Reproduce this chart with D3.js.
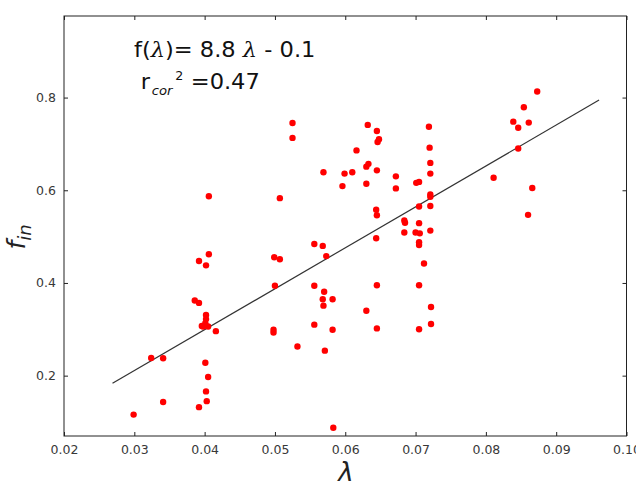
<!doctype HTML>
<html>
<head>
<script src="https://d3js.org/d3.v7.min.js"></script>
<style>
  body { margin: 0; background: #fff; }
  text { font-family: "DejaVu Sans", sans-serif; }
</style>
</head>
<body>
<script>

// data
var lambdaVals = [
  0.0299, 0.0324, 0.0341, 0.0341,
  0.0392, 0.0406, 0.0402, 0.0386, 0.0392, 0.0402, 0.0402, 0.0401, 0.0398, 0.0405,
  0.0416, 0.0401, 0.0405, 0.0402, 0.0403, 0.0392, 0.0406, 0.0396,
  0.0499, 0.0507, 0.0500, 0.0498, 0.0498, 0.0507, 0.0532, 0.0525, 0.0525,
  0.0556, 0.0568, 0.0573, 0.0556, 0.0570, 0.0568, 0.0582, 0.0569, 0.0556, 0.0582,
  0.0571, 0.0583, 0.0569,
  0.0599, 0.0596, 0.0610, 0.0616, 0.0630, 0.0633, 0.0632, 0.0645, 0.0646, 0.0648,
  0.0645, 0.0630, 0.0644, 0.0645, 0.0644, 0.0645, 0.0630, 0.0645,
  0.0672, 0.0672, 0.0701, 0.0705, 0.0705, 0.0684, 0.0685, 0.0705, 0.0684, 0.0700,
  0.0706, 0.0705, 0.0705, 0.0712, 0.0705, 0.0705, 0.0719, 0.0720, 0.0721, 0.0721,
  0.0721, 0.0721, 0.0721, 0.0721, 0.0722, 0.0722,
  0.0811, 0.0839, 0.0846, 0.0854, 0.0861, 0.0873, 0.0846, 0.0866, 0.0860
];
var finVals = [
  0.116, 0.238, 0.2375, 0.143,
  0.4475, 0.462, 0.438, 0.362, 0.357, 0.331, 0.322, 0.313, 0.306, 0.306,
  0.296, 0.228, 0.197, 0.166, 0.145, 0.132, 0.587, 0.307,
  0.4555, 0.451, 0.394, 0.299, 0.293, 0.583, 0.263, 0.745, 0.713,
  0.484, 0.480, 0.458, 0.394, 0.381, 0.365, 0.365, 0.351, 0.310, 0.299,
  0.254, 0.0875, 0.639,
  0.636, 0.609, 0.639, 0.686, 0.651, 0.657, 0.741, 0.728, 0.704, 0.710,
  0.643, 0.614, 0.558, 0.546, 0.4965, 0.395, 0.340, 0.302,
  0.630, 0.604, 0.616, 0.618, 0.565, 0.535, 0.530, 0.529, 0.509, 0.509,
  0.507, 0.488, 0.482, 0.442, 0.395, 0.300, 0.737, 0.692, 0.659, 0.636,
  0.591, 0.586, 0.566, 0.513, 0.348, 0.3115,
  0.627, 0.748, 0.735, 0.779, 0.746, 0.813, 0.690, 0.605, 0.547
];

// fitted line as drawn
var fitSlope = 8.83, fitIntercept = -0.054;
var fitRange = [0.0269, 0.0961];

var xTicks = [0.02, 0.03, 0.04, 0.05, 0.06, 0.07, 0.08, 0.09, 0.10];
var yTicks = [0.2, 0.4, 0.6, 0.8];

var margin = {top: 16, right: 9.5, bottom: 55, left: 64},
    width = 636 - margin.left - margin.right,
    height = 491 - margin.top - margin.bottom;

var svg = d3.select("body")
    .append("svg")
    .attr("width", 636)
    .attr("height", 491)
    .append("g")
    .attr("transform", "translate(" + margin.left + "," + margin.top + ")");

var x = d3.scaleLinear().domain([0.02, 0.10]).range([0, width]);
var y = d3.scaleLinear().domain([0.0698, 0.976]).range([height, 0]);

// axes, ticks pointing inward like matplotlib classic
function styleAxis(g) {
    g.select(".domain").remove();
    g.selectAll(".tick line").attr("stroke", "#222");
    g.selectAll(".tick text").attr("fill", "#383838").attr("font-size", "12.5px")
        .attr("font-family", "DejaVu Sans");
}
svg.append("g")
    .attr("transform", "translate(0," + height + ")")
    .call(d3.axisBottom(x).tickValues(xTicks).tickSizeInner(-4).tickPadding(9)
        .tickFormat(d3.format(".2f")))
    .call(styleAxis);
svg.append("g")
    .call(d3.axisTop(x).tickValues(xTicks).tickSizeInner(-4).tickFormat(""))
    .call(styleAxis);
svg.append("g")
    .call(d3.axisLeft(y).tickValues(yTicks).tickSizeInner(-4).tickPadding(8)
        .tickFormat(d3.format(".1f")))
    .call(styleAxis);
svg.append("g")
    .attr("transform", "translate(" + width + ",0)")
    .call(d3.axisRight(y).tickValues(yTicks).tickSizeInner(-4).tickFormat(""))
    .call(styleAxis);

svg.append("rect")
    .attr("width", width)
    .attr("height", height)
    .attr("fill", "none")
    .attr("stroke", "#222")
    .attr("stroke-width", 1);

// fit line
svg.append("line")
    .attr("x1", x(fitRange[0]))
    .attr("y1", y(fitSlope * fitRange[0] + fitIntercept))
    .attr("x2", x(fitRange[1]))
    .attr("y2", y(fitSlope * fitRange[1] + fitIntercept))
    .attr("stroke", "#333")
    .attr("stroke-width", 1.2);

// points
svg.selectAll(".dot")
    .data(d3.range(lambdaVals.length))
    .enter().append("circle")
    .attr("class", "dot")
    .attr("cx", function(i) { return x(lambdaVals[i]); })
    .attr("cy", function(i) { return y(finVals[i]); })
    .attr("r", 3.2)
    .attr("fill", "#f00");

// annotation (slightly stretched, as in the original)
var root = d3.select("svg");
var t1 = root.append("text")
    .attr("transform", "translate(134,57) scale(1.1,1)")
    .attr("font-size", "20.5px").attr("fill", "#111");
t1.append("tspan").text("f(");
t1.append("tspan").attr("font-family", "DejaVu Serif").attr("font-style", "italic").text("λ");
t1.append("tspan").text(")= 8.8 ");
t1.append("tspan").attr("font-family", "DejaVu Serif").attr("font-style", "italic").text("λ");
t1.append("tspan").text(" - 0.1");

var t2 = root.append("g")
    .attr("transform", "translate(140.7,88.5) scale(1.1,1)")
    .attr("fill", "#111");
t2.append("text").attr("x", 0).attr("y", 0).attr("font-size", "20.5px").text("r");
t2.append("text").attr("x", 10).attr("y", 6.5).attr("font-size", "12px")
    .attr("font-family", "DejaVu Serif").attr("font-style", "italic").text("cor");
t2.append("text").attr("x", 31.5).attr("y", -8.5).attr("font-size", "11.5px")
    .attr("font-family", "DejaVu Serif").text("2");
t2.append("text").attr("x", 45.5).attr("y", 0).attr("font-size", "20.5px").text("=0.47");

// axis labels
root.append("text")
    .attr("x", 346)
    .attr("y", 481)
    .attr("text-anchor", "middle")
    .attr("font-family", "DejaVu Serif")
    .attr("font-style", "italic")
    .attr("font-size", "26px")
    .attr("fill", "#222")
    .text("λ");

var yl = root.append("text")
    .attr("transform", "translate(25,237) rotate(-90)")
    .attr("text-anchor", "middle")
    .attr("font-family", "DejaVu Serif")
    .attr("font-style", "italic")
    .attr("fill", "#222");
yl.append("tspan").attr("font-size", "25px").text("f");
yl.append("tspan").attr("font-size", "18px").attr("dy", 6).text("in");

</script>
</body>
</html>
